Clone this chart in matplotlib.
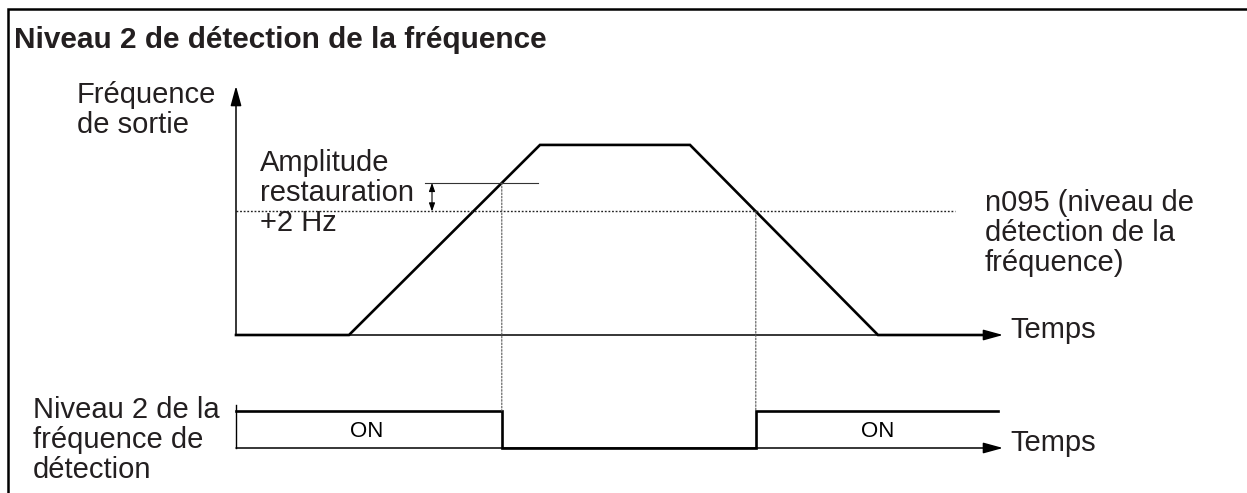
import numpy as np
import matplotlib
matplotlib.use("Agg")
import matplotlib.pyplot as plt
from matplotlib.patches import ConnectionPatch

plt.rcParams['font.family'] = ['Liberation Sans', 'DejaVu Sans']

# ---------------- data ----------------
time_pts = [0.0, 1.13, 3.04, 4.54, 6.42, 7.55]      # time (arbitrary units)
freq_pts = [0, 0, 100, 100, 0, 0]                   # output frequency (%)
detect_level = 65                                   # n095
restore_level = 80                                  # n095 + 2 Hz
time_axis_end = 7.67
freq_axis_top = 131
signal_end = 7.62
signal_on, signal_off = 1, 0

title = "Niveau 2 de détection de la fréquence"
ylabel_top = "Fréquence\nde sortie"
amp_label = "Amplitude\nrestauration\n+2 Hz"
detect_label = "n095 (niveau de\ndétection de la\nfréquence)"
ylabel_bottom = "Niveau 2 de la\nfréquence de\ndétection"
xlabel = "Temps"
on_label = "ON"

# derived switching times
t_off = np.interp(restore_level, freq_pts[1:3], time_pts[1:3])
t_on = np.interp(detect_level, [freq_pts[4], freq_pts[3]], [time_pts[4], time_pts[3]])
signal_t = [0.0, t_off, t_off, t_on, t_on, signal_end]
signal_v = [signal_on, signal_on, signal_off, signal_off, signal_on, signal_on]

# ---------------- figure ----------------
W, H = 1247, 493
fig = plt.figure(figsize=(W / 100, H / 100), dpi=100)
TXT = '#231f20'
FS = 21
LS = 1.08

def fpos(x0, ytop, x1, ybot):
    return [x0 / W, 1 - ybot / H, (x1 - x0) / W, (ybot - ytop) / H]

# overlay for frame and labels
axo = fig.add_axes([0, 0, 1, 1])
axo.set_xlim(0, W)
axo.set_ylim(H, 0)
axo.axis('off')
axo.plot([8, 8, W], [H, 9, 9], color='black', lw=1.8, solid_joinstyle='miter')

ax1 = fig.add_axes(fpos(236, 86, 1003, 335))
ax1.set_xlim(0, time_axis_end)
ax1.set_ylim(0, freq_axis_top)
ax1.axis('off')

ax2 = fig.add_axes(fpos(236, 405, 1003, 448))
ax2.set_xlim(0, time_axis_end)
ax2.set_ylim(0, 1.16)
ax2.axis('off')

arrow_kw = dict(arrowstyle='-|>,head_length=0.8,head_width=0.22', mutation_scale=15,
                lw=1.1, color='black', shrinkA=0, shrinkB=0)

# top chart axes
ax1.annotate('', xy=(0, 1), xytext=(0, 0), xycoords='axes fraction', arrowprops=arrow_kw)
ax1.annotate('', xy=(1, 0), xytext=(0, 0), xycoords='axes fraction', arrowprops=arrow_kw)
# frequency curve
ax1.plot(time_pts, freq_pts, color='black', lw=1.9, clip_on=False, solid_joinstyle='miter')
# detection level
ax1.plot([0, 7.19], [detect_level, detect_level], color='#222222', lw=1.0,
         linestyle=(0, (1.3, 1.3)), clip_on=False)
# restore level
ax1.plot([1.89, 3.02], [restore_level, restore_level], color='#333333', lw=0.8, clip_on=False)
# double arrow
ax1.annotate('', xy=(1.96, restore_level), xytext=(1.96, detect_level),
             arrowprops=dict(arrowstyle='<|-|>,head_length=0.5,head_width=0.18',
                             mutation_scale=10, lw=0.8, color='black',
                             shrinkA=0, shrinkB=0))

# bottom chart axes
ax2.plot([0, 0], [0, 1.16], color='black', lw=1.0, clip_on=False)
ax2.annotate('', xy=(1, 0), xytext=(0, 0), xycoords='axes fraction', arrowprops=arrow_kw)
ax2.plot(signal_t, signal_v, color='black', lw=1.9, clip_on=False, solid_joinstyle='miter')
ax2.text(1.31, 0.44, on_label, ha='center', va='center', fontsize=16, color='black')
ax2.text(6.42, 0.44, on_label, ha='center', va='center', fontsize=16, color='black')

# vertical dotted connectors
for (t, lvl) in [(t_off, restore_level), (t_on, detect_level)]:
    cp = ConnectionPatch(xyA=(t, lvl), coordsA=ax1.transData,
                         xyB=(t, signal_on), coordsB=ax2.transData,
                         color='#555555', lw=0.8, linestyle=(0, (1.5, 1.5)))
    fig.add_artist(cp)

# labels
axo.text(14, 40, title, fontsize=21.4, fontweight='bold', color=TXT, ha='left', va='center')
axo.text(77, 110, ylabel_top, fontsize=FS, color=TXT, ha='left', va='center', linespacing=LS)
axo.text(260, 193, amp_label, fontsize=FS, color=TXT, ha='left', va='center', linespacing=LS)
axo.text(985, 233, detect_label, fontsize=FS, color=TXT, ha='left', va='center', linespacing=LS)
axo.text(33, 440, ylabel_bottom, fontsize=FS, color=TXT, ha='left', va='center', linespacing=LS)
axo.text(1010, 330, xlabel, fontsize=FS, color=TXT, ha='left', va='center')
axo.text(1010, 443, xlabel, fontsize=FS, color=TXT, ha='left', va='center')

fig.savefig('out.png', dpi=100)
